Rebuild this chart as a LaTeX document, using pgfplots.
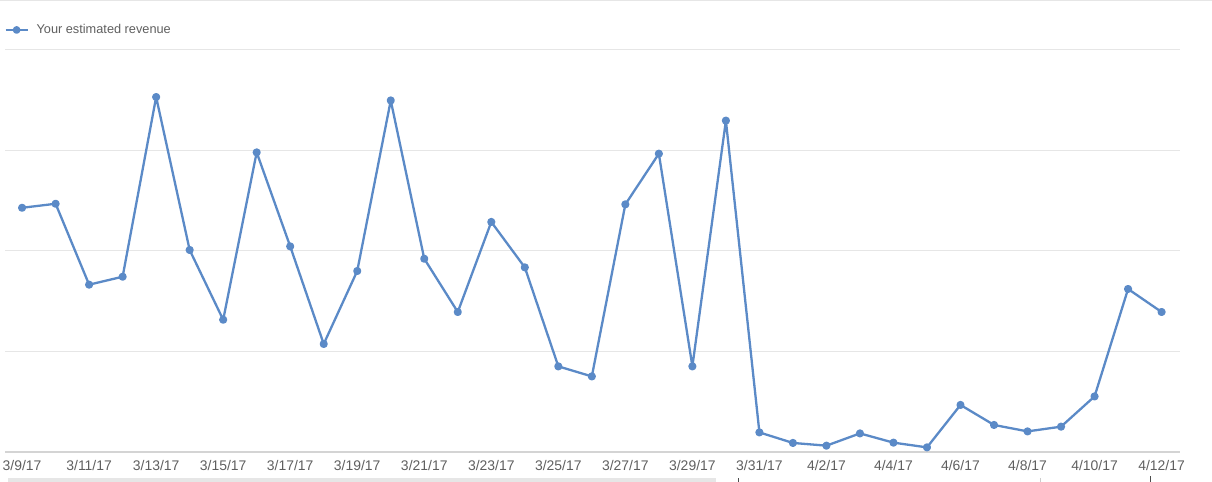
\documentclass[border=0pt]{standalone}
\usepackage{fontspec}
\setmainfont{Liberation Sans}
\usepackage{pgfplots}
\pgfplotsset{compat=1.18}
\definecolor{linec}{RGB}{91,138,199}
\definecolor{gridc}{RGB}{230,230,230}
\definecolor{basec}{RGB}{212,212,212}
\definecolor{txtc}{RGB}{95,95,95}
\begin{document}
\begin{tikzpicture}[x=1bp,y=1bp]
\path[use as bounding box] (-5,-30) rectangle (1207,452);
\draw[gridc, line width=1.5bp] (-5,451.3) -- (1207,451.3);
\fill[gridc] (3,-30) rectangle (711,-26);
\draw[black!70, line width=0.8bp] (733,-30) -- (733,-26);
\draw[black!70, line width=0.8bp] (1145,-30) -- (1145,-24);
\draw[black!20, line width=0.8bp] (1035,-30) -- (1035,-26);
\begin{axis}[
  at={(0,0)}, anchor=south west,
  scale only axis,
  width=1175bp, height=402bp,
  xmin=-0.51, xmax=34.55,
  ymin=0, ymax=4,
  axis line style={draw=none},
  major tick length=0pt,
  ytick={1,2,3,4}, yticklabels={},
  ymajorgrids, grid style={gridc, line width=1bp},
  xtick=\empty,
  clip=false,
  legend style={at={(axis description cs:-0.0005,1.0498)}, anchor=west, draw=none, fill=none,
    font=\fontsize{12.8}{14}\selectfont\color{txtc}, inner xsep=0pt, inner ysep=0pt,
    /tikz/every even column/.append style={column sep=0pt}},
  legend image code/.code={\draw[linec, line width=2bp] (0bp,0bp)--(22bp,0bp); \fill[linec] (11bp,0bp) circle (2.7bp);},
  legend cell align=left,
]
\draw[basec, line width=1.2bp] (axis cs:-0.51,0) -- (axis cs:34.55,0);
\addplot[linec, line width=2.3bp, line join=round, mark=*, mark size=2.9bp, mark options={fill=linec, draw=none}] coordinates {
(0,2.430) (1,2.470) (2,1.665) (3,1.744) (4,3.532) (5,2.010) (6,1.316) (7,2.981)
(8,2.046) (9,1.075) (10,1.801) (11,3.498) (12,1.923) (13,1.393) (14,2.289) (15,1.837)
(16,0.852) (17,0.752) (18,2.464) (19,2.968) (20,0.852) (21,3.297) (22,0.195) (23,0.090)
(24,0.063) (25,0.185) (26,0.093) (27,0.046) (28,0.468) (29,0.269) (30,0.205) (31,0.252)
(32,0.553) (33,1.622) (34,1.393)
};
\addlegendentry{\hspace{6bp}Your estimated revenue}
\foreach \i/\lab in {0/3\slash9\slash17, 2/3\slash11\slash17, 4/3\slash13\slash17, 6/3\slash15\slash17, 8/3\slash17\slash17, 10/3\slash19\slash17, 12/3\slash21\slash17, 14/3\slash23\slash17, 16/3\slash25\slash17, 18/3\slash27\slash17, 20/3\slash29\slash17, 22/3\slash31\slash17, 24/4\slash2\slash17, 26/4\slash4\slash17, 28/4\slash6\slash17, 30/4\slash8\slash17, 32/4\slash10\slash17, 34/4\slash12\slash17}{
  \edef\temp{\noexpand\node[txtc, font=\noexpand\fontsize{14}{16}\noexpand\selectfont, anchor=base] at (axis cs:\i,0) [yshift=-19bp] {\lab};}
  \temp
}
\end{axis}
\end{tikzpicture}
\end{document}
